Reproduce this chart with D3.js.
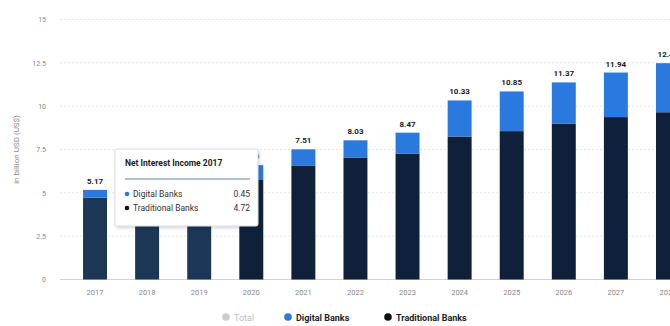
<!DOCTYPE html>
<html>
<head>
<meta charset="utf-8">
<script src="https://cdn.jsdelivr.net/npm/d3@7/dist/d3.min.js"></script>
<style>
  html, body { margin: 0; padding: 0; background: #fff; }
  svg { display: block; font-family: Roboto, "Open Sans", Arial, sans-serif; }
</style>
</head>
<body>
<svg id="chart" width="670" height="326"></svg>
<script>
// Net interest income, in billion USD
const years = [2017, 2018, 2019, 2020, 2021, 2022, 2023, 2024, 2025, 2026, 2027, 2028];
const digitalBanks = [0.45, 0.55, 0.66, 0.86, 0.93, 0.99, 1.20, 2.08, 2.29, 2.37, 2.57, 2.83];
const traditionalBanks = [4.72, 4.98, 5.24, 5.74, 6.58, 7.04, 7.27, 8.25, 8.56, 9.00, 9.37, 9.65];
const yTicks = [0, 2.5, 5, 7.5, 10, 12.5, 15];
const seriesNames = ["Total", "Digital Banks", "Traditional Banks"];
const tooltipYear = 2017;

const BLUE = "#2a79df";
const NAVY = "#0f213a";
const NAVY_LIGHT = "#1c3656";

const svg = d3.select("#chart");

const x = d3.scaleBand()
  .domain(years)
  .range([69, 694])
  .paddingInner(0.54)
  .paddingOuter(0.27);

const y = d3.scaleLinear()
  .domain([0, 15])
  .range([279.5, 19.5]);

// gridlines
const grid = svg.append("g");
grid.selectAll("line")
  .data(yTicks.filter(d => d > 0))
  .join("line")
  .attr("x1", 60).attr("x2", 670)
  .attr("y1", d => y(d)).attr("y2", d => y(d))
  .attr("stroke", "#e3e3e3")
  .attr("stroke-dasharray", "2,2")
  .attr("stroke-width", 1);

// y axis labels
const yAxis = d3.axisLeft(y).tickValues(yTicks).tickSize(0).tickPadding(0)
  .tickFormat(d => String(d));
svg.append("g")
  .attr("transform", "translate(46,0)")
  .call(yAxis)
  .call(g => g.select(".domain").remove())
  .call(g => g.selectAll("text")
    .attr("fill", "#888")
    .attr("font-size", 7)
    .attr("font-family", "Roboto, sans-serif"));

// baseline
svg.append("line")
  .attr("x1", 60).attr("x2", 670)
  .attr("y1", y(0)).attr("y2", y(0))
  .attr("stroke", "#d2d2d2");

// y axis title
svg.append("text")
  .attr("transform", `translate(19,${(y(0) + y(15)) / 2}) rotate(-90)`)
  .attr("text-anchor", "middle")
  .attr("fill", "#8a8a8a")
  .attr("font-size", 8)
  .text("in billion USD (US$)");

// x axis labels
const xAxis = d3.axisBottom(x).tickSize(0).tickPadding(0);
svg.append("g")
  .attr("transform", `translate(0,${y(0) + 10})`)
  .call(xAxis)
  .call(g => g.select(".domain").remove())
  .call(g => g.selectAll("text")
    .attr("fill", "#888")
    .attr("font-size", 7.5)
    .attr("font-family", "Roboto, sans-serif"));

// stacked bars
const rows = years.map((yr, i) => ({
  year: yr,
  traditional: traditionalBanks[i],
  digital: digitalBanks[i]
}));
const stack = d3.stack().keys(["traditional", "digital"])(rows);

const bars = svg.append("g");
bars.selectAll("rect.trad")
  .data(stack[0])
  .join("rect")
  .attr("class", "trad")
  .attr("x", d => x(d.data.year))
  .attr("width", x.bandwidth())
  .attr("y", d => y(d[1]))
  .attr("height", d => y(d[0]) - y(d[1]))
  .attr("fill", d => d.data.year < 2020 ? NAVY_LIGHT : NAVY);

bars.selectAll("rect.dig")
  .data(stack[1])
  .join("rect")
  .attr("class", "dig")
  .attr("x", d => x(d.data.year))
  .attr("width", x.bandwidth())
  .attr("y", d => y(d[1]))
  .attr("height", d => y(d[0]) - y(d[1]))
  .attr("fill", BLUE);

// total labels
svg.append("g").selectAll("text")
  .data(rows)
  .join("text")
  .attr("x", d => x(d.year) + x.bandwidth() / 2)
  .attr("y", d => y(d.traditional + d.digital) - 6)
  .attr("text-anchor", "middle")
  .attr("font-size", 8)
  .attr("font-weight", "bold")
  .attr("fill", "#1a1a1a")
  .text(d => (d.traditional + d.digital).toFixed(2));

// tooltip
const ti = years.indexOf(tooltipYear);
const tip = svg.append("g").attr("transform", "translate(115,149)");
const defs = svg.append("defs");
const f = defs.append("filter").attr("id", "shadow")
  .attr("x", "-10%").attr("y", "-10%").attr("width", "130%").attr("height", "140%");
f.append("feDropShadow").attr("dx", 1).attr("dy", 1.5).attr("stdDeviation", 1.5)
  .attr("flood-color", "#000").attr("flood-opacity", 0.18);
tip.append("rect")
  .attr("width", 143).attr("height", 77)
  .attr("rx", 2)
  .attr("fill", "#fff")
  .attr("stroke", "#d6dbe3")
  .attr("filter", "url(#shadow)");
tip.append("text")
  .attr("x", 10).attr("y", 17)
  .attr("font-size", 8.5)
  .attr("font-weight", "bold")
  .attr("fill", "#222")
  .text(`Net Interest Income ${tooltipYear}`);
tip.append("line")
  .attr("x1", 10).attr("x2", 135)
  .attr("y1", 30).attr("y2", 30)
  .attr("stroke", "#5f82b4").attr("stroke-width", 1);
const tipRows = [
  { name: seriesNames[1], value: digitalBanks[ti], color: BLUE },
  { name: seriesNames[2], value: traditionalBanks[ti], color: "#111" }
];
tipRows.forEach((r, k) => {
  const yy = 48 + k * 14;
  tip.append("circle").attr("cx", 12).attr("cy", yy - 3).attr("r", 2.3).attr("fill", r.color);
  tip.append("text").attr("x", 18).attr("y", yy)
    .attr("font-size", 8.5).attr("fill", "#333").text(r.name);
  tip.append("text").attr("x", 135).attr("y", yy)
    .attr("text-anchor", "end")
    .attr("font-size", 8.5).attr("fill", "#333").text(r.value.toFixed(2));
});

// legend
const legendItems = [
  { name: seriesNames[0], color: "#cccccc", text: "#bdbdbd", weight: "normal", x: 226 },
  { name: seriesNames[1], color: BLUE, text: "#1d1d1d", weight: "bold", x: 288 },
  { name: seriesNames[2], color: "#111", text: "#1d1d1d", weight: "bold", x: 388 }
];
const legend = svg.append("g");
legendItems.forEach(it => {
  legend.append("circle").attr("cx", it.x).attr("cy", 317).attr("r", 3.8).attr("fill", it.color);
  legend.append("text").attr("x", it.x + 8).attr("y", 320.5)
    .attr("font-size", 9).attr("font-weight", it.weight)
    .attr("fill", it.text).text(it.name);
});
</script>
</body>
</html>
